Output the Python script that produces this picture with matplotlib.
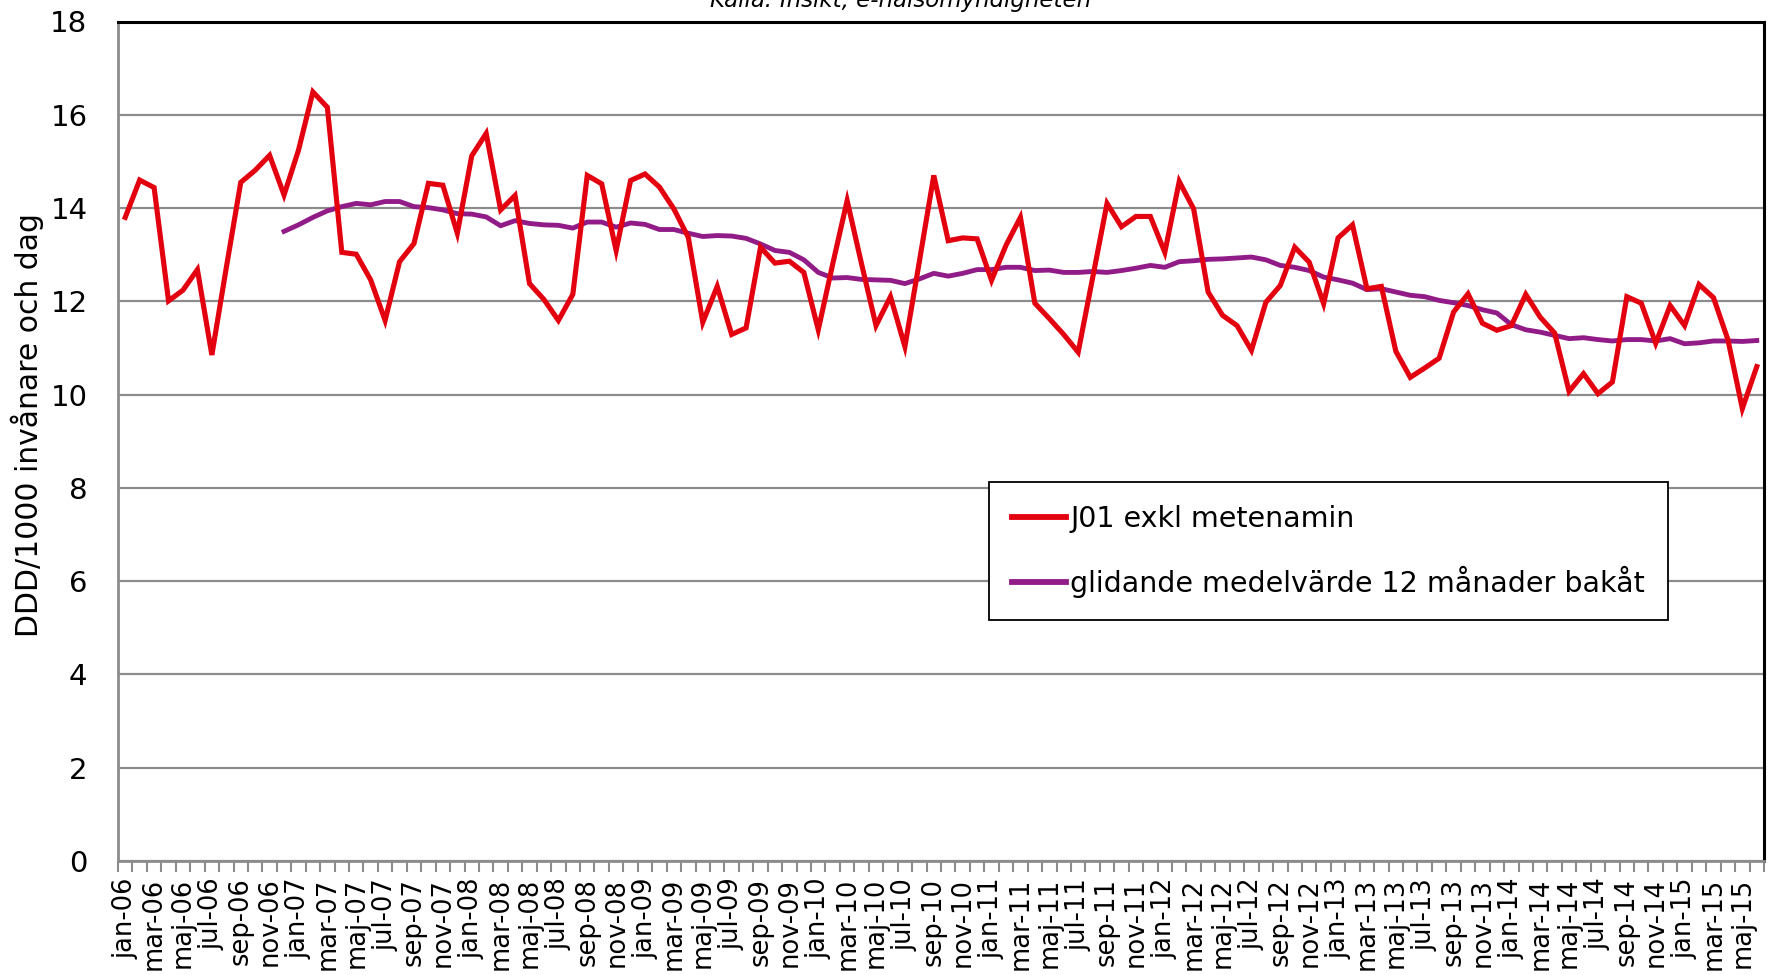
import numpy as np
import matplotlib
matplotlib.use("Agg")
import matplotlib.pyplot as plt

# ---------------- data ----------------
month_names = ["jan", "feb", "mar", "apr", "maj", "jun",
               "jul", "aug", "sep", "okt", "nov", "dec"]
years = ["06", "07", "08", "09", "10", "11", "12", "13", "14", "15"]
n_months = 114  # jan-06 .. jun-15
categories = [f"{month_names[k % 12]}-{years[k // 12]}" for k in range(n_months)]

j01_values = [
    13.8, 14.6, 14.44, 12.01, 12.24, 12.68, 10.85, 12.72, 14.55, 14.81, 15.13, 14.28,
    15.24, 16.49, 16.16, 13.05, 13.01, 12.46, 11.59, 12.85, 13.24, 14.53, 14.49, 13.46,
    15.12, 15.6, 13.96, 14.27, 12.38, 12.04, 11.59, 12.15, 14.7, 14.52, 13.09, 14.59,
    14.73, 14.45, 13.98, 13.37, 11.55, 12.32, 11.29, 11.43, 13.16, 12.82, 12.86, 12.62,
    11.39, 12.8, 14.16, 12.8, 11.48, 12.1, 11.03, 12.85, 14.7, 13.3, 13.36, 13.34,
    12.45, 13.2, 13.8, 11.96, 11.63, 11.29, 10.91, 12.5, 14.1, 13.6, 13.82, 13.82,
    13.05, 14.57, 13.98, 12.2, 11.7, 11.48, 10.95, 11.98, 12.34, 13.16, 12.84, 11.95,
    13.36, 13.64, 12.27, 12.32, 10.93, 10.37, 10.57, 10.78, 11.77, 12.16, 11.53, 11.38,
    11.48, 12.15, 11.66, 11.32, 10.07, 10.45, 10.02, 10.27, 12.1, 11.96, 11.1, 11.91,
    11.48, 12.36, 12.08, 11.18, 9.7, 10.6,
]

# 12-month moving average (first value at dec-06)
ma_start = 11
ma_values = [
    13.5,
    13.64, 13.8, 13.94, 14.03, 14.1, 14.07, 14.14, 14.14, 14.03, 14.01, 13.96, 13.88,
    13.87, 13.81, 13.62, 13.73, 13.67, 13.64, 13.63, 13.57, 13.7, 13.7, 13.59, 13.68,
    13.65, 13.54, 13.54, 13.46, 13.39, 13.41, 13.4, 13.35, 13.23, 13.09, 13.05, 12.89,
    12.62, 12.5, 12.51, 12.47, 12.46, 12.45, 12.38, 12.48, 12.6, 12.54, 12.6, 12.68,
    12.68, 12.73, 12.73, 12.66, 12.67, 12.62, 12.62, 12.64, 12.62, 12.66, 12.71, 12.77,
    12.73, 12.85, 12.87, 12.9, 12.91, 12.93, 12.95, 12.89, 12.77, 12.73, 12.66, 12.52,
    12.46, 12.39, 12.25, 12.27, 12.2, 12.13, 12.1, 12.02, 11.97, 11.91, 11.82, 11.75,
    11.5, 11.39, 11.34, 11.27, 11.2, 11.22, 11.18, 11.15, 11.18, 11.18, 11.15, 11.2,
    11.09, 11.11, 11.15, 11.15, 11.14, 11.16,
]

y_ticks = [0, 2, 4, 6, 8, 10, 12, 14, 16, 18]
series_labels = ["J01 exkl metenamin", "glidande medelvärde 12 månader bakåt"]
source_text = "Källa: Insikt, e-hälsomyndigheten"
y_label = "DDD/1000 invånare och dag"

# ---------------- figure ----------------
W, H = 1775, 975
fig = plt.figure(figsize=(W / 100, H / 100), dpi=100)
plt.rcParams["font.family"] = ["DejaVu Sans"]

left, right, top, bottom = 118, 1764, 21.5, 861
ax = fig.add_axes([left / W, 1 - bottom / H, (right - left) / W, (bottom - top) / H])

x = np.arange(len(j01_values))
x_ma = np.arange(ma_start, ma_start + len(ma_values))

red = "#E3000F"
purple = "#921C87"

ax.plot(x, j01_values, color=red, lw=3.7, solid_joinstyle="miter", zorder=4,
        label=series_labels[0])
ax.plot(x_ma, ma_values, color=purple, lw=3.5, solid_joinstyle="round", zorder=3,
        label=series_labels[1])

ax.set_xlim(-0.5, len(categories) - 0.5)
ax.set_ylim(0, 18)

# y axis
ax.set_yticks(y_ticks)
ax.set_yticklabels([str(v) for v in y_ticks], fontsize=21)
ax.tick_params(axis="y", length=0, pad=22)
ax.yaxis.grid(True, color="#8c8c8c", lw=1.6, zorder=0)
ax.set_axisbelow(True)

# x axis: tick marks at category boundaries, labels every 2nd category centre
ax.set_xticks(np.arange(-0.5, len(categories) + 0.5, 1))
ax.set_xticklabels([])
ax.tick_params(axis="x", which="major", length=8, width=1.5, color="#8c8c8c", direction="out")
ax.set_xticks(x[::2], minor=True)
ax.set_xticklabels(categories[::2], minor=True, rotation=90, fontsize=18.5)
ax.tick_params(axis="x", which="minor", length=0, pad=12)

for s in ["left", "bottom"]:
    ax.spines[s].set_color("#8c8c8c")
    ax.spines[s].set_linewidth(2)
for s in ["top", "right"]:
    ax.spines[s].set_color("black")
    ax.spines[s].set_linewidth(2.2)

# y label
fig.text(27 / W, 1 - 425 / H, y_label, rotation=90, ha="center", va="center", fontsize=21.5)

# source text (partially cut at the top)
fig.text(901 / W, 1 - 7.5 / H, source_text, ha="center", va="baseline",
         fontsize=16.5, style="italic")

# legend
leg_l, leg_t = 989, 482
leg = ax.legend(loc="upper left",
                bbox_to_anchor=((leg_l - left) / (right - left),
                                1 - (leg_t - top) / (bottom - top)),
                fontsize=20.5, frameon=True, fancybox=False, edgecolor="black",
                handlelength=1.9, handletextpad=0.15, borderpad=0.8,
                labelspacing=1.15, borderaxespad=0, framealpha=1)
leg.get_frame().set_linewidth(1.3)
for h in leg.get_lines():
    h.set_linewidth(4.2)

fig.savefig("out.png", dpi=100)
